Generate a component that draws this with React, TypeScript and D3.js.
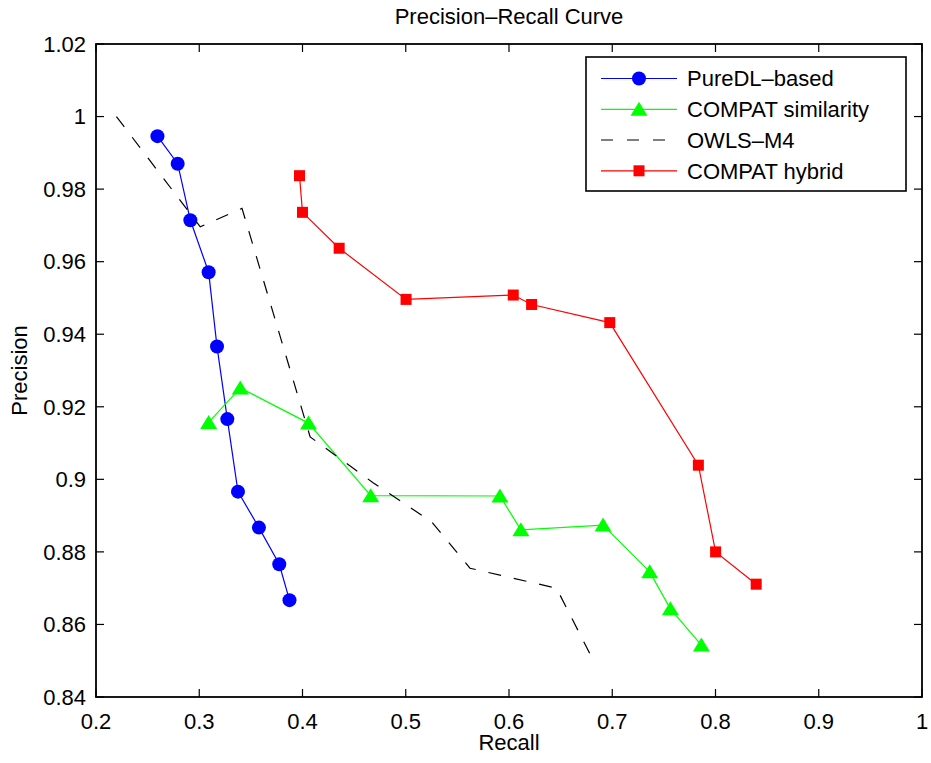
import React from "react";
import * as d3 from "d3";

const pureDLRecall = [0.2595, 0.2791, 0.2914, 0.3091, 0.3172, 0.3272, 0.3375, 0.3578, 0.3775, 0.3874];
const pureDLPrecision = [0.9946, 0.987, 0.9714, 0.9571, 0.9366, 0.9166, 0.8966, 0.8867, 0.8766, 0.8667];

const simRecall = [0.3091, 0.3397, 0.4058, 0.4661, 0.5912, 0.6115, 0.6911, 0.7363, 0.7563, 0.7863];
const simPrecision = [0.9157, 0.9252, 0.9155, 0.8955, 0.8954, 0.8861, 0.8874, 0.8745, 0.8643, 0.8543];

const owlsRecall = [0.2198, 0.301, 0.3414, 0.4074, 0.4687, 0.525, 0.5622, 0.646, 0.6814];
const owlsPrecision = [1.0, 0.9696, 0.9747, 0.9117, 0.899, 0.8883, 0.8755, 0.87, 0.8502];

const hybridRecall = [0.3971, 0.4, 0.4355, 0.5003, 0.6041, 0.6219, 0.6976, 0.7834, 0.8001, 0.8394];
const hybridPrecision = [0.9837, 0.9736, 0.9637, 0.9496, 0.9508, 0.9482, 0.9432, 0.9039, 0.88, 0.8711];

const xTicks = [0.2, 0.3, 0.4, 0.5, 0.6, 0.7, 0.8, 0.9, 1];
const yTicks = [0.84, 0.86, 0.88, 0.9, 0.92, 0.94, 0.96, 0.98, 1, 1.02];
const xTickLabels = ["0.2", "0.3", "0.4", "0.5", "0.6", "0.7", "0.8", "0.9", "1"];
const yTickLabels = ["0.84", "0.86", "0.88", "0.9", "0.92", "0.94", "0.96", "0.98", "1", "1.02"];
const legendLabels = ["PureDL\u2013based", "COMPAT similarity", "OWLS\u2013M4", "COMPAT hybrid"];
const seriesColors = ["#0000ff", "#00ff00", "#000000", "#ff0000"];
const seriesMarkers = ["circle", "triangle", "none", "square"];

const W = 931, H = 763;
const L = 96, R = 922, T = 44, B = 697;
const FONT = "'Liberation Sans', Arial, Helvetica, sans-serif";
const FS = 22;

function Marker({ kind, x, y, color }: { kind: string; x: number; y: number; color: string }) {
  if (kind === "circle") return <circle cx={x} cy={y} r={7} fill={color} />;
  if (kind === "triangle")
    return <path d={`M${x},${y - 7.5}L${x + 8.5},${y + 6.5}L${x - 8.5},${y + 6.5}Z`} fill={color} />;
  if (kind === "square") return <rect x={x - 5.5} y={y - 5.5} width={11} height={11} fill={color} />;
  return null;
}

export default function App() {
  const xs = d3.scaleLinear().domain([0.2, 1]).range([L, R]);
  const ys = d3.scaleLinear().domain([0.84, 1.02]).range([B, T]);
  const line = d3
    .line<[number, number]>()
    .x((d) => xs(d[0]))
    .y((d) => ys(d[1]));

  const series = [
    d3.zip(pureDLRecall, pureDLPrecision) as [number, number][],
    d3.zip(simRecall, simPrecision) as [number, number][],
    d3.zip(owlsRecall, owlsPrecision) as [number, number][],
    d3.zip(hybridRecall, hybridPrecision) as [number, number][],
  ];

  const tickLen = 8;
  const legX = 586, legY = 57, legW = 320, legH = 134;
  const rowY = [78.5, 109.3, 140, 170.8];

  return (
    <svg
      width={W}
      height={H}
      style={{ position: "absolute", left: 0, top: 0, background: "#fff" }}
      fontFamily={FONT}
    >
      <rect x={0} y={0} width={W} height={H} fill="#fff" />
      {/* title */}
      <text x={(L + R) / 2} y={24} textAnchor="middle" fontSize={FS} fill="#000">
        Precision–Recall Curve
      </text>

      {/* ticks */}
      {xTicks.map((t, i) => (
        <g key={"xt" + i}>
          <line x1={xs(t)} x2={xs(t)} y1={B} y2={B - tickLen} stroke="#000" strokeWidth={1.2} />
          <line x1={xs(t)} x2={xs(t)} y1={T} y2={T + tickLen} stroke="#000" strokeWidth={1.2} />
          <text x={xs(t)} y={728.5} textAnchor="middle" fontSize={FS} fill="#000">
            {xTickLabels[i]}
          </text>
        </g>
      ))}
      {yTicks.map((t, i) => (
        <g key={"yt" + i}>
          <line x1={L} x2={L + tickLen} y1={ys(t)} y2={ys(t)} stroke="#000" strokeWidth={1.2} />
          <line x1={R} x2={R - tickLen} y1={ys(t)} y2={ys(t)} stroke="#000" strokeWidth={1.2} />
          <text x={86} y={ys(t) + 7.8} textAnchor="end" fontSize={FS} fill="#000">
            {yTickLabels[i]}
          </text>
        </g>
      ))}

      {/* axis labels */}
      <text x={(L + R) / 2} y={749.5} textAnchor="middle" fontSize={FS} fill="#000">
        Recall
      </text>
      <text
        transform={`translate(27,${(T + B) / 2}) rotate(-90)`}
        textAnchor="middle"
        fontSize={FS}
        fill="#000"
      >
        Precision
      </text>

      {/* series */}
      {series.map((s, i) => (
        <g key={"s" + i}>
          <path
            d={line(s) || ""}
            fill="none"
            stroke={seriesColors[i]}
            strokeWidth={1.2}
            strokeDasharray={seriesMarkers[i] === "none" ? "13,13" : undefined}
          />
          {s.map((p, j) => (
            <Marker key={j} kind={seriesMarkers[i]} x={xs(p[0])} y={ys(p[1])} color={seriesColors[i]} />
          ))}
        </g>
      ))}

      {/* axes box */}
      <rect x={L} y={T} width={R - L} height={B - T} fill="none" stroke="#000" strokeWidth={1.8} />

      {/* legend */}
      <rect x={legX} y={legY} width={legW} height={legH} fill="#fff" stroke="#000" strokeWidth={1.6} />
      {legendLabels.map((lab, i) => (
        <g key={"lg" + i}>
          <line
            x1={601}
            x2={677}
            y1={rowY[i]}
            y2={rowY[i]}
            stroke={seriesColors[i]}
            strokeWidth={1.2}
            strokeDasharray={seriesMarkers[i] === "none" ? "12,14" : undefined}
          />
          <Marker kind={seriesMarkers[i]} x={639} y={rowY[i]} color={seriesColors[i]} />
          <text x={687} y={rowY[i] + 7.8} fontSize={FS} fill="#000">
            {lab}
          </text>
        </g>
      ))}
    </svg>
  );
}
